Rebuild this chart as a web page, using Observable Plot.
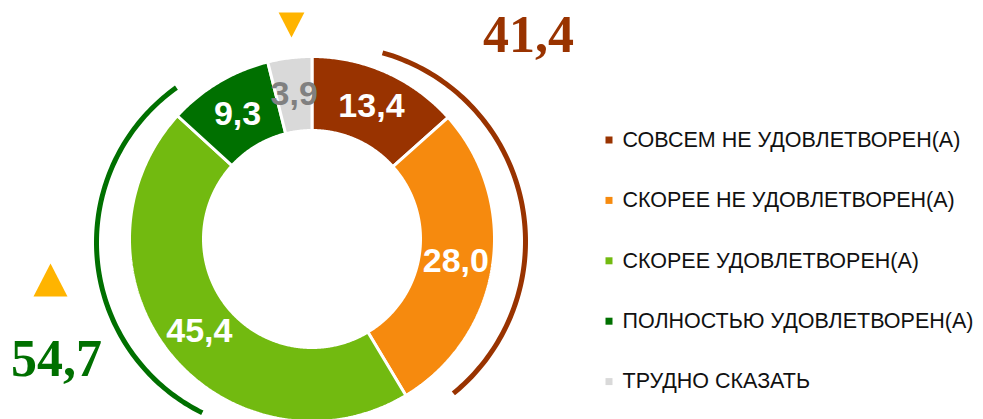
<!DOCTYPE html>
<html><head><meta charset="utf-8">
<script src="https://cdn.jsdelivr.net/npm/d3@7"></script>
<script src="https://cdn.jsdelivr.net/npm/@observablehq/plot@0.6"></script>
<style>
body{margin:0;background:#fff}
#chart{width:983px;height:419px}
</style>
</head><body><div id="chart"></div>
<script>
// ---- data ----
const categories = ["СОВСЕМ НЕ УДОВЛЕТВОРЕН(А)", "СКОРЕЕ НЕ УДОВЛЕТВОРЕН(А)", "СКОРЕЕ УДОВЛЕТВОРЕН(А)", "ПОЛНОСТЬЮ УДОВЛЕТВОРЕН(А)", "ТРУДНО СКАЗАТЬ"];
const values = [13.4, 28.0, 45.4, 9.3, 3.9];
const valueLabels = ["13,4", "28,0", "45,4", "9,3", "3,9"];
const colors = ["#993300", "#F68A0E", "#72BA10", "#007000", "#D9D9D9"];
const groupTotals = [41.4, 54.7];
const groupLabels = ["41,4", "54,7"];
const groupColors = ["#993300", "#007000"];
const changeDirections = ["down", "up"]; // for "ТРУДНО СКАЗАТЬ" and satisfied total

// ---- layout ----
const L = {
  W: 983, H: 419,
  cx: 311.5, cy: 238.5, rOuter: 181, rInner: 110, sep: 3, labelR: 145.5,
  arcs: [{cx: 329, cy: 241, r: 196, a0: 15.7, a1: 140.8},
         {cx: 286, cy: 242, r: 190, a0: 206.3, a1: 324.6}],
  groupLabelPos: [[528, 35], [56, 359]],
  triangles: [{x: 291, y: 24.5, r: 12.5}, {x: 50, y: 279.5, r: 16.5}],
  legend: {x: 608.5, textX: 622, y0: 139.5, dy: 60.4}
};

const rad = d => d * Math.PI / 180;
const pt = (cx, cy, r, deg) => [cx + r * Math.sin(rad(deg)), cy - r * Math.cos(rad(deg))];

const total = d3.sum(values);
let cum = 0;
const slices = categories.map((key, i) => {
  const a0 = cum / total * 360;
  cum += values[i];
  const a1 = cum / total * 360;
  return {key, value: values[i], label: valueLabels[i], a0, a1, mid: (a0 + a1) / 2};
});

const slicePts = [];
for (const s of slices) {
  const ro = L.rOuter + L.sep / 2, ri = L.rInner - L.sep / 2;
  const n = Math.max(4, Math.ceil((s.a1 - s.a0) * 2));
  for (let k = 0; k <= n; k++) {
    const a = s.a0 + (s.a1 - s.a0) * k / n;
    const [x, y] = pt(L.cx, L.cy, ro, a);
    slicePts.push({key: s.key, x, y});
  }
  for (let k = n; k >= 0; k--) {
    const a = s.a0 + (s.a1 - s.a0) * k / n;
    const [x, y] = pt(L.cx, L.cy, ri, a);
    slicePts.push({key: s.key, x, y});
  }
}

const arcPts = [];
L.arcs.forEach((a, gi) => {
  const n = 120;
  for (let k = 0; k <= n; k++) {
    const ang = a.a0 + (a.a1 - a.a0) * k / n;
    const [x, y] = pt(a.cx, a.cy, a.r, ang);
    arcPts.push({g: gi, x, y});
  }
});

const groups = groupTotals.map((v, i) => ({v, label: groupLabels[i], color: groupColors[i], x: L.groupLabelPos[i][0], y: L.groupLabelPos[i][1]}));
const tris = changeDirections.map((d, i) => ({dir: d, ...L.triangles[i]}));

const tri = {
  draw(ctx, size) {
    const r = Math.sqrt(size / Math.PI);
    ctx.moveTo(0, -r);
    ctx.lineTo(r * 1.03, r);
    ctx.lineTo(-r * 1.03, r);
    ctx.closePath();
  }
};

const sans = "'Liberation Sans', Arial, sans-serif";
const serif = "'Liberation Serif', 'Times New Roman', serif";

const chart = Plot.plot({
  width: L.W, height: L.H,
  margin: 0,
  x: {domain: [0, L.W], range: [0, L.W], axis: null},
  y: {domain: [0, L.H], range: [0, L.H], axis: null},
  color: {domain: categories, range: colors},
  style: {fontFamily: sans, background: "white"},
  marks: [
    Plot.line(slicePts, {x: "x", y: "y", z: "key", fill: "key", stroke: "white", strokeWidth: 3, curve: "linear-closed", strokeLinejoin: "miter"}),
    Plot.text(slices, {
      x: d => pt(L.cx, L.cy, L.labelR, d.mid)[0],
      y: d => pt(L.cx, L.cy, L.labelR, d.mid)[1],
      text: "label",
      fill: d => d.key === "ТРУДНО СКАЗАТЬ" ? "#808080" : "white",
      fontSize: 34, fontWeight: "bold", fontFamily: sans
    }),
    Plot.line(arcPts, {x: "x", y: "y", z: "g", stroke: d => groupColors[d.g], strokeWidth: 5, strokeLinecap: "butt"}),
    Plot.text(groups, {x: "x", y: "y", text: "label", fill: "color", fontSize: 52, fontWeight: "bold", fontFamily: serif}),
    ...tris.map(t => Plot.dot([t], {x: "x", y: "y", r: t.r, symbol: tri, fill: "#FFB400", stroke: "none", rotate: t.dir === "down" ? 180 : 0})),
    Plot.dot(categories, {x: () => L.legend.x, y: (d, i) => L.legend.y0 + i * L.legend.dy, symbol: "square", r: 3.95, fill: d => d}),
    Plot.text(categories, {x: () => L.legend.textX, y: (d, i) => L.legend.y0 + i * L.legend.dy, text: d => d, textAnchor: "start", fontSize: 21.5, fill: "#111", fontFamily: sans, style: "letter-spacing:0.2px"})
  ]
});
chart.querySelectorAll("text").forEach(t => { if (t.closest("g") && t.getAttribute("font-size") === "21.5") t.style.letterSpacing = "0.2px"; });
document.getElementById("chart").appendChild(chart);
</script>
</body></html>
